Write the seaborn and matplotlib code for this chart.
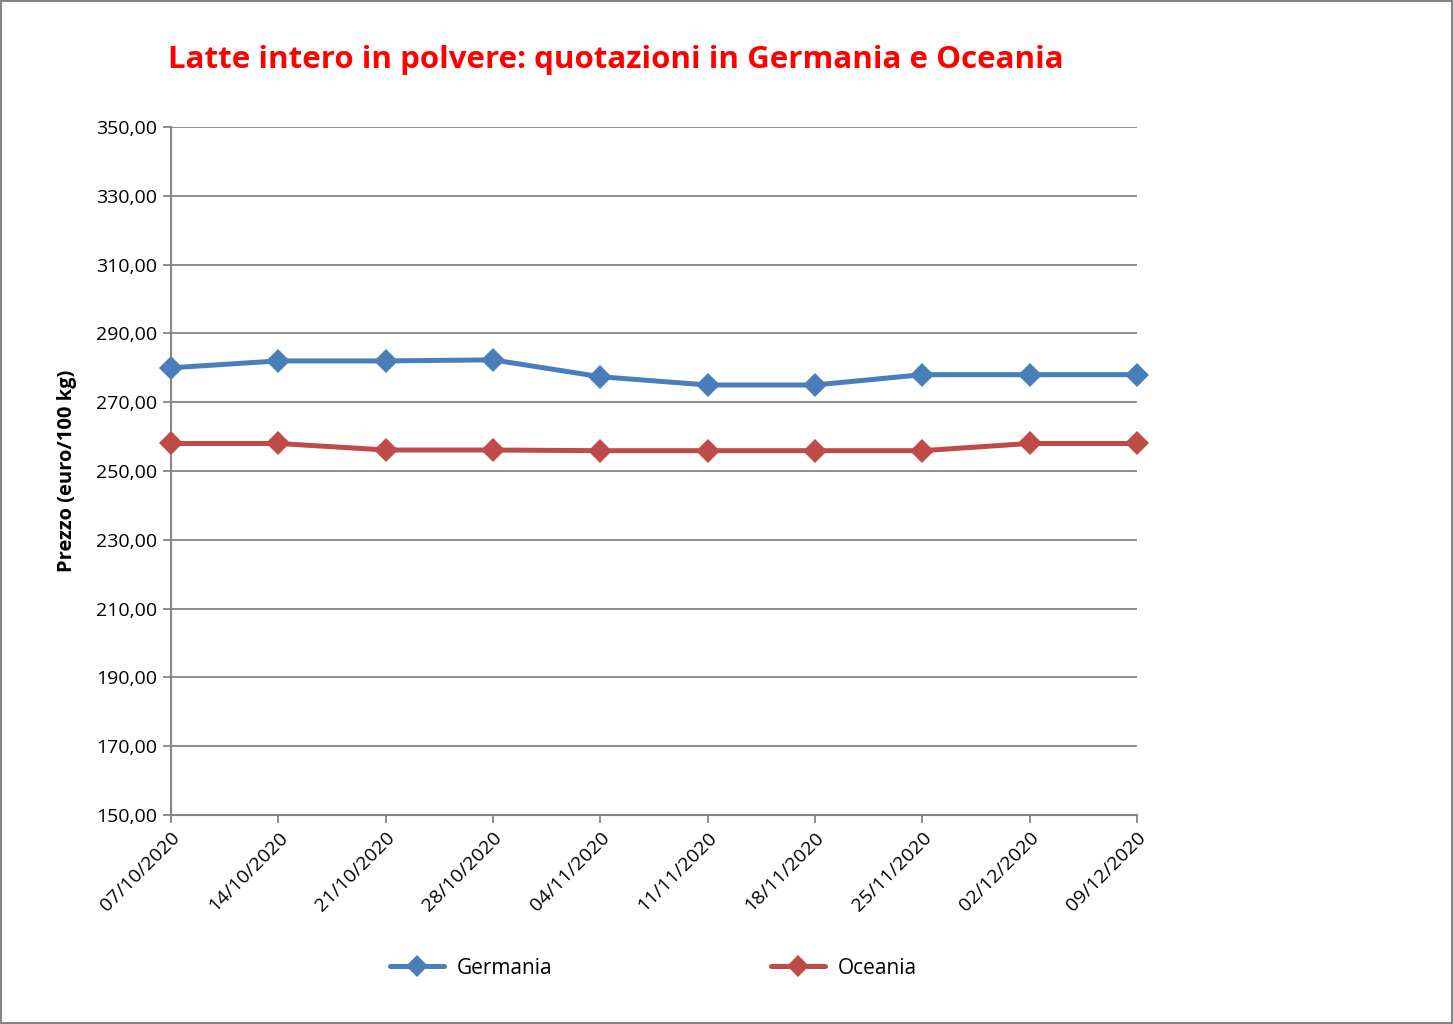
import pandas as pd
import seaborn as sns
import numpy as np
import matplotlib
matplotlib.use('Agg')
import matplotlib.pyplot as plt
from matplotlib.patches import Rectangle

# Data
date = ['07/10/2020', '14/10/2020', '21/10/2020', '28/10/2020', '04/11/2020',
        '11/11/2020', '18/11/2020', '25/11/2020', '02/12/2020', '09/12/2020']
germania = [280.0, 282.0, 282.0, 282.3, 277.4, 275.0, 275.0, 278.0, 278.0, 278.0]
oceania = [258.0, 258.0, 256.1, 256.1, 255.9, 255.9, 255.9, 255.9, 258.0, 258.0]
y_ticks = [150, 170, 190, 210, 230, 250, 270, 290, 310, 330, 350]

df = pd.DataFrame({
    'pos': list(range(len(date))) * 2,
    'prezzo': germania + oceania,
    'serie': ['Germania'] * len(date) + ['Oceania'] * len(date),
})

sns.set_style('white')
plt.rcParams['font.family'] = ['Open Sans', 'DejaVu Sans']
plt.rcParams['text.color'] = 'black'

fig = plt.figure(figsize=(14.53, 10.24), dpi=100)
ax = fig.add_axes([0.1177, 0.2041, 0.7825 - 0.1177, 0.876 - 0.2041])

sns.lineplot(data=df, x='pos', y='prezzo', hue='serie', style='serie',
             markers=['D', 'D'], dashes=False,
             palette=['#4A7EBB', '#BE4B48'], linewidth=3.6, markersize=12,
             markeredgewidth=0, ax=ax, legend=False)
for ln in ax.lines:
    ln.set_clip_on(False)
    ln.set_zorder(5)

ax.set_xlim(0, len(date) - 1)
ax.set_ylim(150, 350)
ax.set_yticks(y_ticks)
ax.set_yticklabels([f'{v:.2f}'.replace('.', ',') for v in y_ticks], fontsize=14)
ax.set_xticks(range(len(date)))
ax.set_xticklabels(date, rotation=45, ha='right', rotation_mode='anchor', fontsize=14)
ax.set_xlabel('')
ax.set_ylabel('Prezzo (euro/100 kg)', fontsize=14.5, fontweight='bold', labelpad=14,
              color='black')

ax.grid(axis='y', color='#868686', linewidth=1.3)
ax.set_axisbelow(True)
for s in ['top', 'right']:
    ax.spines[s].set_visible(False)
for s in ['left', 'bottom']:
    ax.spines[s].set_color('#868686')
    ax.spines[s].set_linewidth(1.5)
ax.tick_params(axis='both', which='both', direction='out', length=6, width=1.3,
               color='#868686', labelcolor='black', left=True, bottom=True, pad=4)

fig.text(168 / 1453, 1 - 60 / 1024, 'Latte intero in polvere: quotazioni in Germania e Oceania',
         color='#FF0000', fontsize=22.5, fontweight='bold', va='center', ha='left')

handles = [plt.Line2D([], [], color='#4A7EBB', marker='D', lw=3.6, ms=11, mew=0),
           plt.Line2D([], [], color='#BE4B48', marker='D', lw=3.6, ms=11, mew=0)]
leg = fig.legend(handles, ['Germania', 'Oceania'], loc='center', ncol=2,
                 bbox_to_anchor=(653 / 1453, 1 - 968 / 1024), frameon=False,
                 fontsize=15, columnspacing=10.5, handlelength=2.6, handletextpad=0.6)
for t in leg.get_texts():
    t.set_color('black')

fig.patches.append(Rectangle((0.0005, 0.0005), 0.999, 0.999, transform=fig.transFigure,
                             fill=False, edgecolor='#868686', linewidth=1.5))

fig.savefig('out.png', dpi=100, facecolor='white')
